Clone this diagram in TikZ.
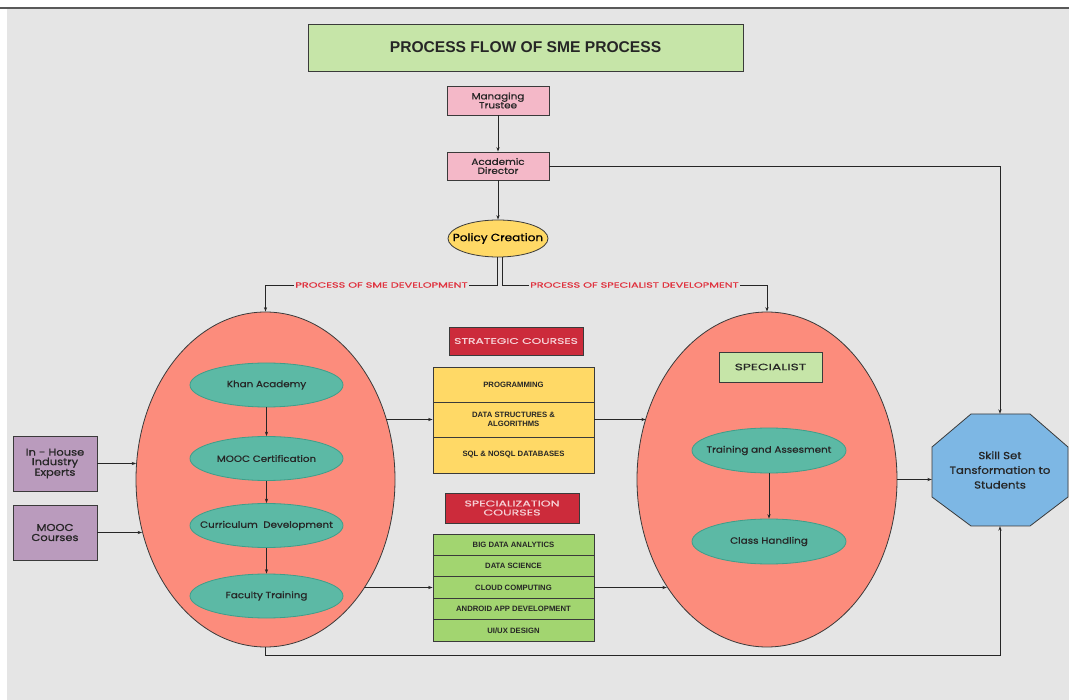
\documentclass[tikz,border=0pt]{standalone}
\usepackage{fontspec}
\setmainfont{Liberation Sans}
\newfontfamily\tech[FakeStretch=1.15,FakeBold=0.8]{Poppins}
\newfontfamily\techwide[FakeStretch=1.5,FakeBold=0.6]{Poppins}
\usetikzlibrary{shapes.geometric,arrows.meta,calc}
\definecolor{bg}{HTML}{E5E5E5}
\definecolor{edge}{HTML}{3A3A3A}
\definecolor{titlegreen}{HTML}{C6E5A8}
\definecolor{pinkbox}{HTML}{F4B8C8}
\definecolor{yel}{HTML}{FFD966}
\definecolor{salmon}{HTML}{FC8C7C}
\definecolor{teal}{HTML}{5CB9A5}
\definecolor{tealedge}{HTML}{3E9E8A}
\definecolor{purp}{HTML}{BA9BBD}
\definecolor{redbox}{HTML}{CC2B3B}
\definecolor{redtext}{HTML}{F6D0D5}
\definecolor{grn}{HTML}{A2D570}
\definecolor{octblue}{HTML}{7DB7E4}
\definecolor{lblred}{HTML}{E0323F}
\begin{document}
\begin{tikzpicture}[x=1pt,y=-1pt,
  box/.style={draw=edge, line width=0.8pt, inner sep=0pt, align=center, text=black!85},
  techf/.style={font=\tech\fontsize{9}{9}\selectfont},
  smallb/.style={font=\bfseries\fontsize{7.7}{9}\selectfont},
  oval/.style={ellipse, draw=edge, line width=0.8pt, inner ysep=0pt, inner xsep=-20pt, align=center},
  inner/.style={ellipse, draw=tealedge, fill=teal, line width=0.8pt, inner ysep=0pt, inner xsep=-20pt, minimum width=153pt, minimum height=44pt, techf, text=black!85},
  arr/.style={draw=black!85, line width=0.8pt, -{Stealth[length=4.5pt,width=3.2pt]}},
  lbl/.style={fill=bg, inner sep=1pt, text=lblred, font=\techwide\fontsize{7.5}{8}\selectfont},
  ybox/.style={box, fill=yel, minimum width=161pt, smallb},
  gbox/.style={box, fill=grn, minimum width=161pt, minimum height=21.4pt, smallb},
  rbox/.style={box, fill=redbox, text=redtext},
]
\useasboundingbox (0,0) rectangle (1069,700);
\fill[white] (0,0) rectangle (1069,700);
\fill[bg] (7,9) rectangle (1069,700);
\draw[gray!70!black, line width=1.2pt] (0,8) -- (1069,8);

% title
\node[box, fill=titlegreen, minimum width=435pt, minimum height=47pt, font=\bfseries\fontsize{15.6}{18}\selectfont] (title) at (525.5,47.5) {PROCESS FLOW OF SME PROCESS};

% hierarchy
\node[box, fill=pinkbox, minimum width=102pt, minimum height=29pt, techf] (mt) at (498,100.5) {Managing\\Trustee};
\node[box, fill=pinkbox, minimum width=102pt, minimum height=28pt, techf] (ad) at (498,166) {Academic\\Director};
\node[oval, fill=yel, minimum width=100pt, minimum height=37pt, font=\tech\fontsize{10.5}{11}\selectfont] (pol) at (498,238.5) {Policy Creation};

% big ellipses
\node[oval, fill=salmon, minimum width=259pt, minimum height=335pt] (big1) at (265.5,479.5) {};
\node[oval, fill=salmon, minimum width=260pt, minimum height=335pt] (big2) at (767,479.5) {};

% inner left
\node[inner] (ka) at (266.5,385) {Khan Academy};
\node[inner] (mc) at (266.5,458.5) {MOOC Certification};
\node[inner] (cd) at (266.5,525.5) {Curriculum\ \ Development};
\node[inner] (ft) at (266.5,596) {Faculty Training};

% inner right
\node[box, fill=titlegreen, minimum width=103pt, minimum height=30pt, font=\techwide\fontsize{9.2}{10}\selectfont] (spec) at (770.5,367) {SPECIALIST};
\node[inner, minimum width=154pt, minimum height=45pt] (ta) at (769,450.5) {Training and Assesment};
\node[inner, minimum width=154pt, minimum height=45pt] (ch) at (769,541.5) {Class Handling};

% left inputs
\node[box, fill=purp, minimum width=84pt, minimum height=55pt, font=\tech\fontsize{10}{9.5}\selectfont] (inh) at (55,463.5) {In - House\\Industry\\Experts};
\node[box, fill=purp, minimum width=84pt, minimum height=55pt, font=\tech\fontsize{10}{10}\selectfont] (moocc) at (55,532.5) {MOOC\\Courses};

% middle
\node[rbox, minimum width=134pt, minimum height=28pt, font=\techwide\fontsize{8.2}{9}\selectfont] (strat) at (516,341) {STRATEGIC COURSES};
\node[ybox, minimum height=35pt] (ys1) at (513.5,384.5) {PROGRAMMING};
\node[ybox, minimum height=35pt] (ys2) at (513.5,419.5) {DATA STRUCTURES \&\\ALGORITHMS};
\node[ybox, minimum height=36pt] (ys3) at (513.5,455) {SQL \& NOSQL DATABASES};

\node[rbox, minimum width=134pt, minimum height=30pt, font=\techwide\fontsize{8.4}{9}\selectfont] (specc) at (512,508) {SPECIALIZATION\\COURSES};
\node[gbox] (gs1) at (513.5,544.7) {BIG DATA ANALYTICS};
\node[gbox] (gs2) at (513.5,566.1) {DATA SCIENCE};
\node[gbox] (gs3) at (513.5,587.5) {CLOUD COMPUTING};
\node[gbox] (gs4) at (513.5,608.9) {ANDROID APP DEVELOPMENT};
\node[gbox] (gs5) at (513.5,630.3) {UI/UX DESIGN};

% octagon
\draw[draw=edge, line width=0.8pt, fill=octblue] (971,414) -- (1030,414) -- (1068,447) -- (1068,497) -- (1030,526) -- (971,526) -- (932,497) -- (932,447) -- cycle;
\node[minimum width=136pt, minimum height=112pt, inner sep=0pt, align=center, text=black!85, font=\tech\fontsize{10.2}{14.7}\selectfont] (skill) at (1000,470) {Skill Set\\Tansformation to\\Students};

% connectors
\draw[arr] (mt.south) -- (ad.north);
\draw[arr] (ad.south) -- (pol.north);
\draw[arr] (ad.east) -| (skill.north);
\coordinate (sl) at (497.5,285);
\coordinate (sr) at (502.5,285);
\draw[arr] (pol.south -| sl) -- (sl) -| (big1.north);
\draw[arr] (pol.south -| sr) -- (sr) -| (big2.north);
\node[lbl] (l1) at (381.5,285) {PROCESS OF SME DEVELOPMENT};
\node[lbl] (l2) at (634.5,285) {PROCESS OF SPECIALIST DEVELOPMENT};

\draw[arr] (ka.south) -- (mc.north);
\draw[arr] (mc.south) -- (cd.north);
\draw[arr] (cd.south) -- (ft.north);
\draw[arr] (ta.south) -- (ch.north);

\draw[arr] (inh.east) -- (inh.east -| big1.173);
\draw[arr] (moocc.east) -- (moocc.east -| big1.203);
\draw[arr] (big1.27 |- ys2.west) -- (ys2.west);
\draw[arr] (big1.312 |- gs3.west) -- (gs3.west);
\draw[arr] (ys2.east) -- (ys2.east -| big2.153.4);
\draw[arr] (gs3.east) -- (gs3.east -| big2.227.5);
\draw[arr] (big2.east) -- (big2.east -| skill.west);
\coordinate (bot) at (1000,655);
\draw[arr] (big1.south) |- (bot) -- (skill.south);
\end{tikzpicture}
\end{document}
